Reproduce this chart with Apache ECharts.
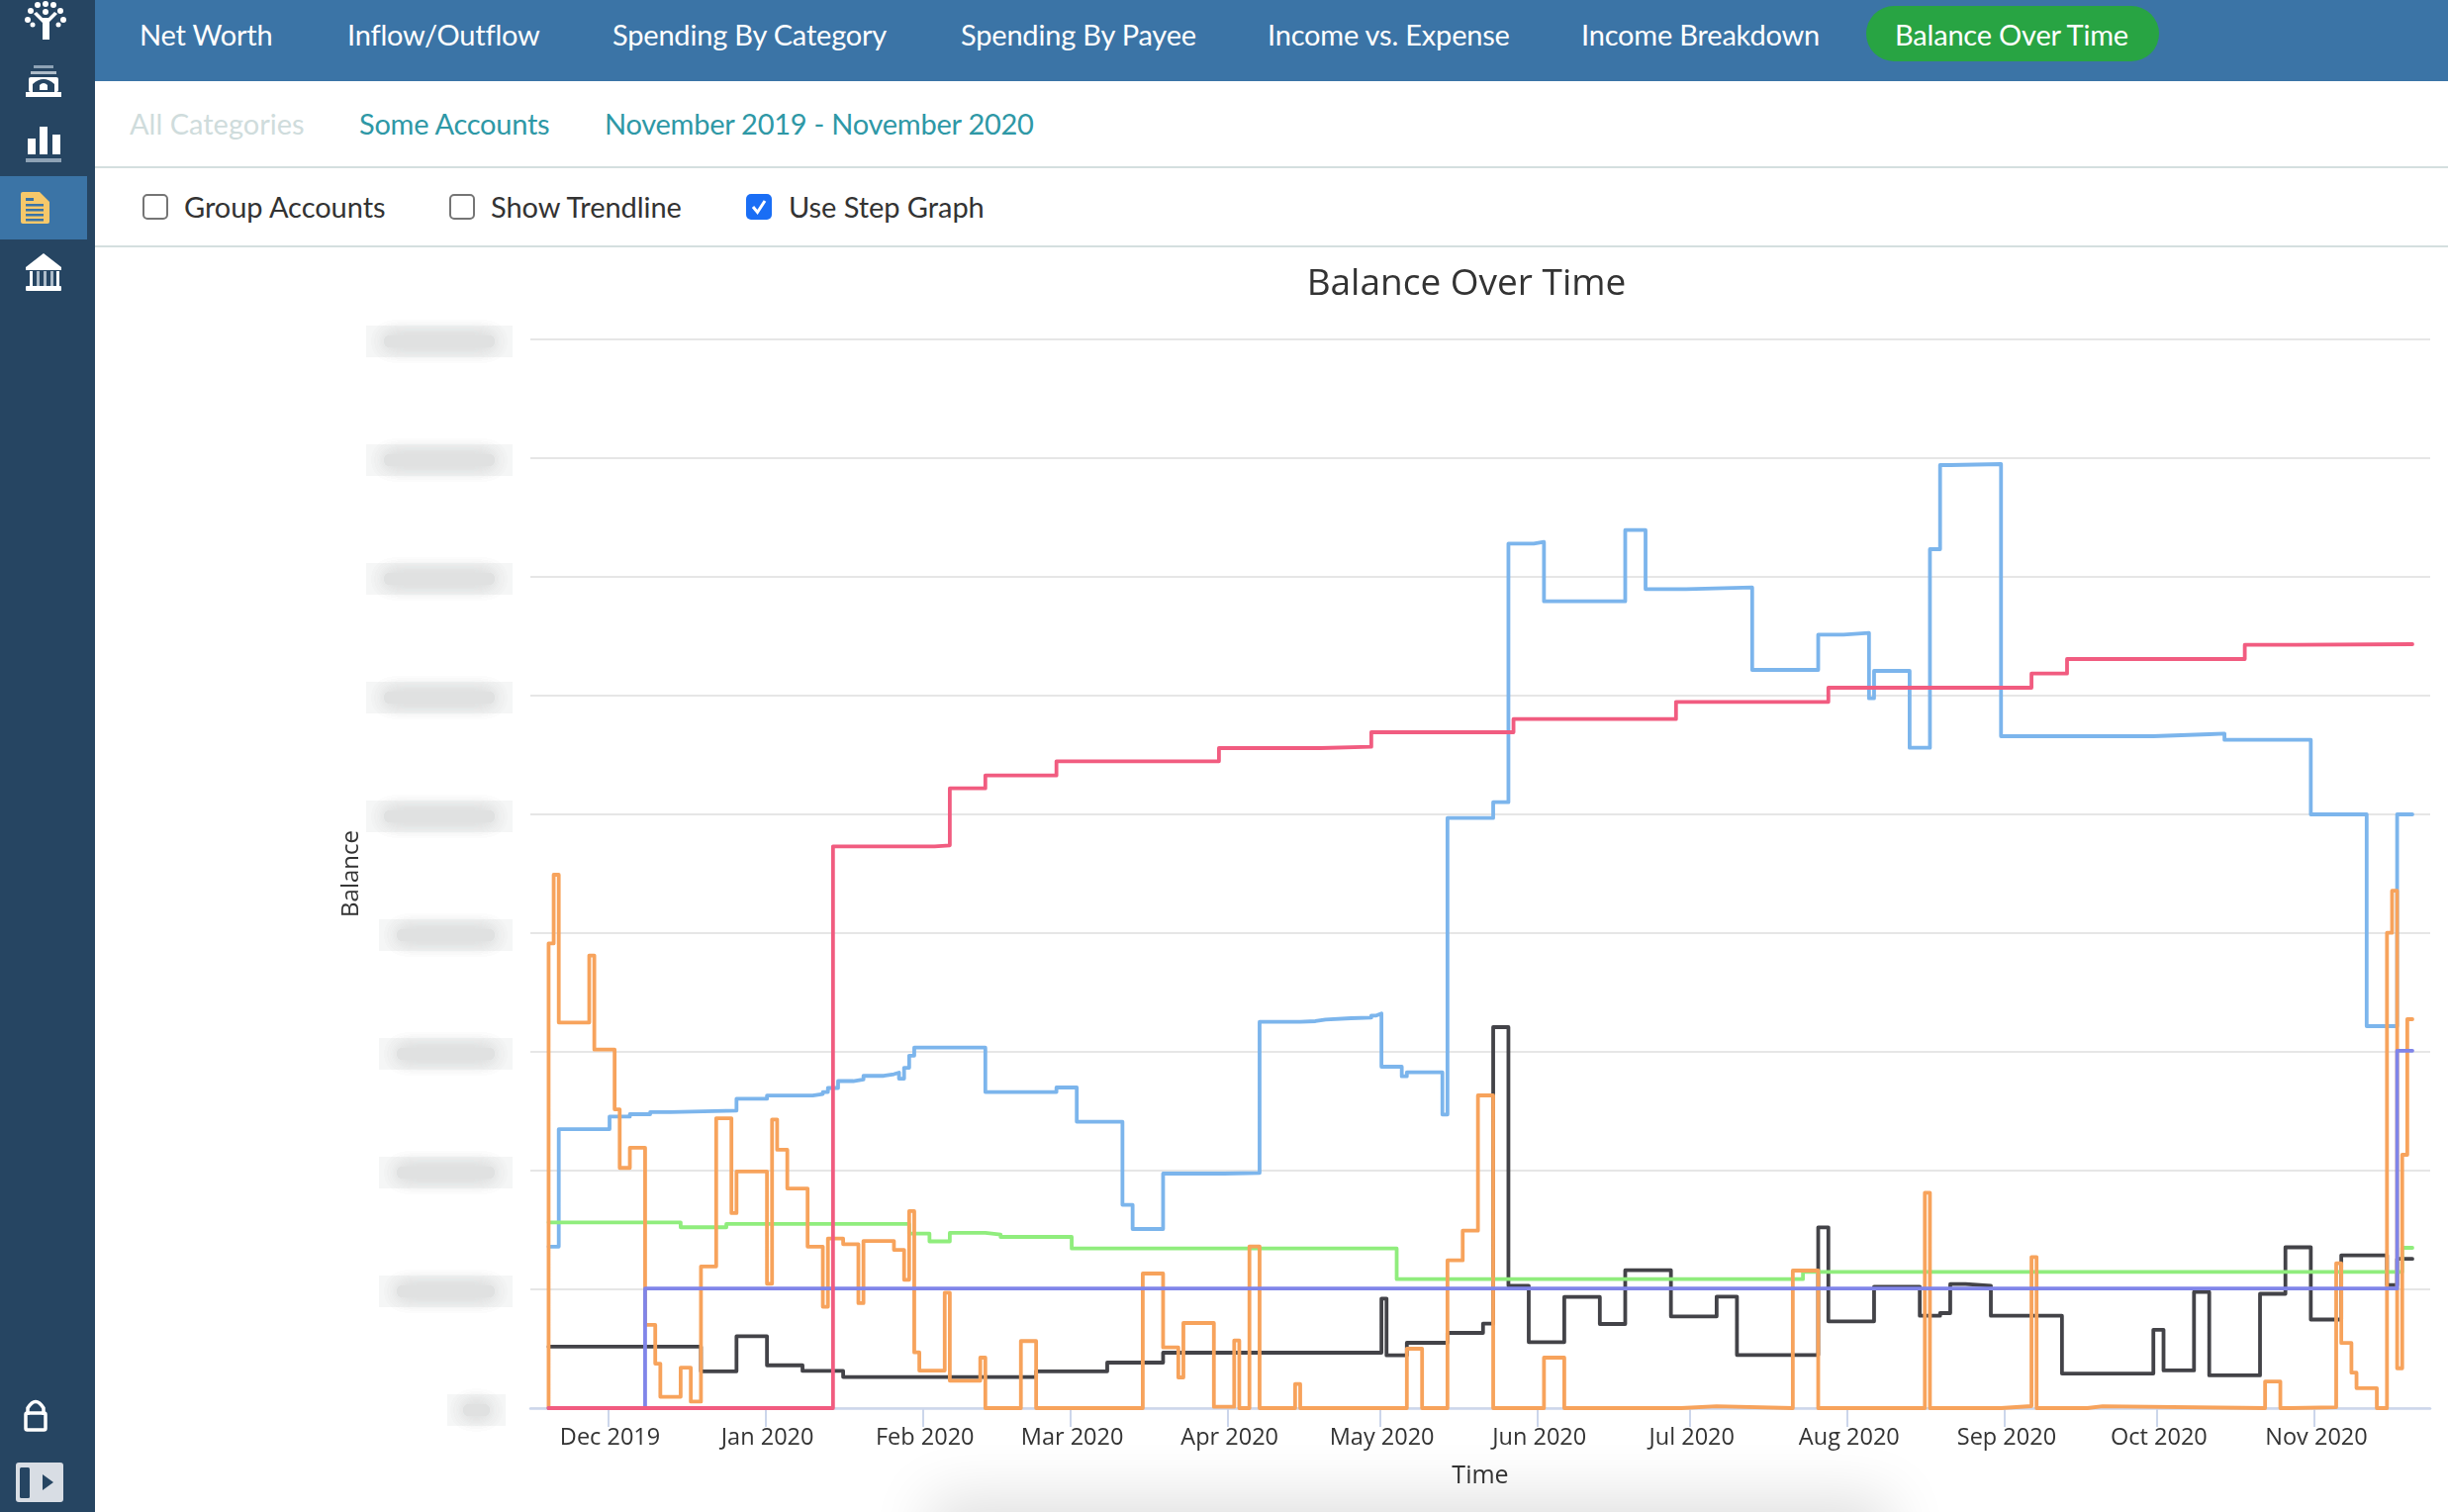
<!DOCTYPE html>
<html>
<head>
<meta charset="utf-8">
<title>Balance Over Time</title>
<script src="https://cdn.jsdelivr.net/npm/echarts@6/dist/echarts.min.js"></script>
<style>
  html, body { margin: 0; padding: 0; width: 2474px; height: 1528px; overflow: hidden; background: #fff; font-family: Lato, sans-serif; }
  #side { position: absolute; left: 0; top: 0; width: 96px; height: 1528px; background: #264562; }
  #side .active { position: absolute; left: 0; top: 178px; width: 88px; height: 64px; background: #3b74a6; }
  #side svg { position: absolute; left: 0; top: 0; }
  #topbar { position: absolute; left: 96px; top: 0; right: 0; height: 82px; background: #3b74a6; }
  .nav { position: absolute; top: 16px; font-size: 29px; line-height: 38px; color: #fff; white-space: nowrap; letter-spacing: -0.2px; }
  #pill { position: absolute; left: 1886px; top: 6px; width: 296px; height: 56px; border-radius: 28px; background: #28a443; }
  .sub { position: absolute; top: 106px; font-size: 29px; line-height: 38px; color: #2e98a6; white-space: nowrap; letter-spacing: -0.25px; }
  .rule { position: absolute; left: 96px; right: 0; height: 2px; background: #d4dfdf; }
  .opt { position: absolute; top: 190px; font-size: 29px; line-height: 38px; color: #333; white-space: nowrap; letter-spacing: -0.05px; }
  .box { position: absolute; top: 196px; width: 22px; height: 22px; border: 2px solid #757575; border-radius: 5px; background: #fff; }
  .box.on { width: 26px; height: 26px; border: 0; background: #1a6ef5; }
  #haze { position: absolute; left: 960px; top: 1534px; width: 930px; height: 40px; box-shadow: 0 0 60px 20px rgba(0,0,0,0.13); }
  #chart { position: absolute; left: 0; top: 0; width: 2474px; height: 1528px; }
</style>
</head>
<body>
<div id="haze"></div>
<div id="side">
  <div class="active"></div>
  <svg width="96" height="1528" viewBox="0 0 96 1528">
    <!-- tree mark -->
    <g fill="#fff">
      <rect x="43" y="18" width="7" height="22"/>
      <path d="M46 26 L34 14 L37 12 L46 21 L55 12 L58 14 Z"/>
      <circle cx="46" cy="4" r="3"/><circle cx="38" cy="5" r="3"/><circle cx="54" cy="5" r="3"/>
      <circle cx="31" cy="11" r="3"/><circle cx="46" cy="12" r="3"/><circle cx="61" cy="11" r="3"/>
      <circle cx="28" cy="20" r="3"/><circle cx="64" cy="20" r="3"/><circle cx="33" cy="25" r="2.5"/><circle cx="59" cy="25" r="2.5"/>
    </g>
    <!-- safe -->
    <g fill="#fff">
      <rect x="34" y="66" width="20" height="3" fill="#8ea2b5"/>
      <rect x="31" y="72" width="26" height="3" fill="#aebcc9"/>
      <rect x="29" y="78" width="30" height="15" rx="2"/>
      <rect x="26" y="93" width="36" height="5"/>
      <path d="M33 93 V85 Q44 75 55 85 V93 Z" fill="#264562"/>
      <path d="M40 91 V86 Q44 82 48 86 V91 Z"/>
    </g>
    <!-- bars -->
    <g fill="#fff">
      <rect x="28" y="140" width="8" height="16"/>
      <rect x="40" y="128" width="8" height="28"/>
      <rect x="53" y="136" width="8" height="20"/>
      <rect x="26" y="160" width="36" height="4" fill="#8ea2b5"/>
    </g>
    <!-- document, active item -->
    <path d="M23 194 H40 L50 204 V224 Q50 226 48 226 H23 Q21 226 21 224 V196 Q21 194 23 194 Z" fill="#f6c86a"/>
    <g fill="#3b74a6">
      <rect x="26" y="200" width="8" height="3"/><rect x="26" y="206" width="18" height="2.5"/>
      <rect x="26" y="211" width="18" height="2.5"/><rect x="26" y="216" width="18" height="2.5"/><rect x="26" y="221" width="18" height="2.5"/>
    </g>
    <!-- institution -->
    <g fill="#fff">
      <path d="M44 256 L62 270 V273 H26 V270 Z"/>
      <rect x="30" y="274" width="3" height="15"/><rect x="37" y="274" width="3" height="15" fill="#aebcc9"/>
      <rect x="44" y="274" width="3" height="15" fill="#aebcc9"/><rect x="51" y="274" width="3" height="15" fill="#aebcc9"/>
      <rect x="57" y="274" width="3" height="15"/><rect x="26" y="289" width="36" height="5" rx="1"/>
    </g>
    <!-- lock -->
    <g>
      <path d="M28 1430 V1423 Q36 1410 44 1423 V1430" fill="none" stroke="#fff" stroke-width="3.5"/>
      <rect x="26" y="1428" width="20" height="17" rx="1.5" fill="none" stroke="#fff" stroke-width="3.5"/>
    </g>
    <!-- collapse toggle -->
    <rect x="16" y="1478" width="48" height="40" rx="3" fill="#d8dde4"/>
    <rect x="20" y="1483" width="10" height="31" rx="1.5" fill="#264562"/>
    <path d="M43 1490 L54 1498 L43 1506 Z" fill="#264562"/>
  </svg>
</div>
<div id="topbar"></div>
<div id="pill"></div>
<div class="nav" style="left:141px">Net Worth</div>
<div class="nav" style="left:351px">Inflow/Outflow</div>
<div class="nav" style="left:619px">Spending By Category</div>
<div class="nav" style="left:971px">Spending By Payee</div>
<div class="nav" style="left:1281px">Income vs. Expense</div>
<div class="nav" style="left:1598px">Income Breakdown</div>
<div class="nav" style="left:1915px">Balance Over Time</div>
<div class="sub" style="left:131px;color:#cfdcdc;letter-spacing:0">All Categories</div>
<div class="sub" style="left:363px">Some Accounts</div>
<div class="sub" style="left:611px">November 2019 - November 2020</div>
<div class="rule" style="top:168px"></div>
<div class="box" style="left:144px"></div>
<div class="opt" style="left:186px">Group Accounts</div>
<div class="box" style="left:454px"></div>
<div class="opt" style="left:496px">Show Trendline</div>
<div class="box on" style="left:754px">
  <svg width="26" height="26" viewBox="0 0 26 26"><path d="M7 13 L11.5 18.5 L19 7" fill="none" stroke="#fff" stroke-width="3"/></svg>
</div>
<div class="opt" style="left:797px">Use Step Graph</div>
<div class="rule" style="top:248px"></div>
<div id="chart"></div>
<script>
// Balance series, one row of change dates and one row of balances per account.
const checkingDates = ['2019-11-19','2019-11-21','2019-12-01','2019-12-05','2019-12-09','2019-12-13','2019-12-26','2020-01-01','2020-01-10','2020-01-12','2020-01-13','2020-01-15','2020-01-18','2020-01-20','2020-01-24','2020-01-26','2020-01-27','2020-01-28','2020-01-29','2020-01-30','2020-02-13','2020-02-27','2020-03-02','2020-03-11','2020-03-13','2020-03-19','2020-03-31','2020-04-07','2020-04-15','2020-04-18','2020-04-20','2020-04-25','2020-04-29','2020-04-30','2020-05-01','2020-05-05','2020-05-06','2020-05-13','2020-05-14','2020-05-23','2020-05-26','2020-05-31','2020-06-02','2020-06-18','2020-06-22','2020-06-30','2020-07-13','2020-07-26','2020-07-31','2020-08-05','2020-08-06','2020-08-13','2020-08-17','2020-08-19','2020-08-21','2020-08-31','2020-09-30','2020-10-11','2020-10-14','2020-10-31','2020-11-11','2020-11-17','2020-11-20'];
const checkingValues = [27200,46990,49100,49500,49840,50120,52090,52630,52900,53240,53920,55080,55350,55960,56240,56510,55490,57320,59360,60720,53240,54000,48230,34230,30170,39500,39610,65060,65170,65450,65670,65780,66120,66450,57500,55890,56560,49450,99380,102050,145620,145880,135880,147880,137950,138220,124330,130280,130550,119550,124170,111220,144670,158830,159000,113170,113500,113620,112550,100000,64330,100000,100000];

const savingsDates = ['2019-11-19','2019-12-19','2019-12-26','2020-01-01','2020-01-08','2020-01-16','2020-02-23','2020-03-08','2020-03-19','2020-05-01','2020-05-02','2020-05-06','2020-05-14','2020-05-21','2020-05-23','2020-05-26','2020-05-30','2020-06-06','2020-06-13','2020-06-18','2020-06-27','2020-07-06','2020-07-10','2020-07-26','2020-07-28','2020-08-06','2020-08-15','2020-08-19','2020-08-21','2020-08-24','2020-08-29','2020-09-12','2020-09-30','2020-10-02','2020-10-08','2020-10-11','2020-10-21','2020-10-26','2020-10-31','2020-11-06','2020-11-15','2020-11-17','2020-11-20'];
const savingsValues = [10340,6190,12100,7210,6260,5240,6190,7670,9330,18450,8890,11000,12670,14220,64170,20610,11110,18720,14170,23220,15450,18780,8950,30450,14610,20450,15560,16000,20890,20610,15560,5820,13200,6340,19550,5520,19250,27080,14920,25740,20740,25140,25140];

const reserveDates = ['2019-11-19','2019-12-15','2019-12-24','2020-01-29','2020-02-02','2020-02-06','2020-02-13','2020-02-16','2020-03-01','2020-05-04','2020-07-23','2020-11-18','2020-11-20'];
const reserveValues = [31280,30460,31010,29380,28080,29510,29240,28830,26890,21720,22950,27000,27000];

const cardDates = ['2019-11-19','2019-11-19','2019-11-20','2019-11-21','2019-11-27','2019-11-28','2019-12-02','2019-12-03','2019-12-05','2019-12-08','2019-12-10','2019-12-11','2019-12-15','2019-12-17','2019-12-19','2019-12-22','2019-12-25','2019-12-26','2020-01-01','2020-01-02','2020-01-03','2020-01-05','2020-01-09','2020-01-12','2020-01-13','2020-01-16','2020-01-19','2020-01-20','2020-01-26','2020-01-28','2020-01-29','2020-01-30','2020-01-31','2020-02-05','2020-02-06','2020-02-12','2020-02-13','2020-02-20','2020-02-23','2020-03-15','2020-03-19','2020-03-22','2020-03-23','2020-03-29','2020-04-02','2020-04-03','2020-04-05','2020-04-07','2020-04-14','2020-04-15','2020-05-06','2020-05-09','2020-05-14','2020-05-17','2020-05-20','2020-05-23','2020-06-02','2020-06-06','2020-06-29','2020-07-06','2020-07-21','2020-07-26','2020-08-16','2020-08-17','2020-08-31','2020-09-06','2020-09-07','2020-09-17','2020-09-20','2020-10-22','2020-10-25','2020-10-27','2020-11-05','2020-11-06','2020-11-08','2020-11-09','2020-11-13','2020-11-15','2020-11-16','2020-11-17','2020-11-18','2020-11-19','2020-11-20'];
const cardValues = [0,78270,89830,64940,76230,60380,50320,40460,43860,14010,7480,1900,6800,1090,23870,48820,32840,39850,20940,48620,43520,36990,27200,17070,28560,27610,17680,28150,26660,21620,33180,9380,6320,19450,4620,8500,0,11290,0,22670,10220,5170,14330,220,11390,0,27220,0,4060,0,10000,0,24890,29890,52670,0,8500,0,300,0,23170,0,36280,0,330,25450,0,300,0,4480,0,150,24390,10970,5970,3360,0,80050,87130,6710,42670,65500,65500];

const brokerageDates = ['2019-11-19','2019-12-08','2020-11-17','2020-11-20'];
const brokerageValues = [0,20130,60200,60200];

const retirementDates = ['2019-11-19','2020-01-14','2020-02-03','2020-02-06','2020-02-13','2020-02-27','2020-03-30','2020-04-19','2020-04-29','2020-05-27','2020-06-28','2020-07-28','2020-09-06','2020-09-13','2020-10-18','2020-10-28','2020-11-20'];
const retirementValues = [0,94620,94780,104380,106550,108950,111170,111380,113830,116050,118950,121330,123720,126170,128550,128670,128670];

const balanceTicks = [0,20000,40000,60000,80000,100000,120000,140000,160000,180000];
const monthNames = ['Jan','Feb','Mar','Apr','May','Jun','Jul','Aug','Sep','Oct','Nov','Dec'];

const pairs = (dates, values) => dates.map((d, i) => [d + 'T07:00:00', values[i]]);
const stepLine = (name, color, dates, values) => ({
  name, type: 'line', step: 'end', showSymbol: false, animation: false,
  lineStyle: { color, width: 3.8, join: 'round', cap: 'round' },
  data: pairs(dates, values)
});

const chart = echarts.init(document.getElementById('chart'), null, { renderer: 'canvas' });
const labelFont = '"Open Sans", sans-serif';
const option = {
  backgroundColor: 'transparent',
  animation: false,
  title: {
    text: 'Balance Over Time', left: 1477, top: 264, textAlign: 'center',
    textStyle: { color: '#333', fontSize: 37, fontWeight: 'normal', fontFamily: labelFont }
  },
  grid: { left: 536, right: 18, top: 343, height: 1080, containLabel: false },
  xAxis: {
    type: 'time',
    min: '2019-11-15T16:48:00',
    max: '2020-11-23T19:12:00',
    minInterval: 28 * 86400000,
    maxInterval: 31 * 86400000,
    name: 'Time', nameLocation: 'middle', nameGap: 56,
    nameTextStyle: { color: '#333', fontSize: 25, fontFamily: labelFont },
    axisLine: { lineStyle: { color: '#ccd6eb', width: 2.5 } },
    axisTick: { show: true, length: 19, lineStyle: { color: '#ccd6eb', width: 2 } },
    splitLine: { show: false },
    axisLabel: {
      color: '#333', fontSize: 23.5, fontFamily: labelFont, margin: 18,
      padding: [0, 0, 0, 4],
      showMinLabel: false, showMaxLabel: false, hideOverlap: false,
      formatter: v => { const d = new Date(v); return monthNames[d.getMonth()] + ' ' + d.getFullYear(); }
    }
  },
  yAxis: {
    type: 'value', min: 0, max: 180000, interval: 20000,
    name: 'Balance', nameLocation: 'middle', nameGap: 169,
    nameTextStyle: { color: '#333', fontSize: 24, fontFamily: labelFont },
    axisLine: { show: false }, axisTick: { show: false },
    axisLabel: { show: false },
    splitLine: { lineStyle: { color: '#e6e6e6', width: 2 } }
  },
  series: [
    stepLine('Checking', '#7cb5ec', checkingDates, checkingValues),
    stepLine('Savings', '#434348', savingsDates, savingsValues),
    stepLine('Reserve', '#90ed7d', reserveDates, reserveValues),
    stepLine('Card', '#f7a35c', cardDates, cardValues),
    stepLine('Brokerage', '#8085e9', brokerageDates, brokerageValues),
    stepLine('Retirement', '#f15c80', retirementDates, retirementValues)
  ]
};
chart.setOption(option);

// The balance tick labels are obscured: a pale patch with a soft smudge sits at each tick.
const smudges = [];
balanceTicks.forEach(tick => {
  const y = chart.convertToPixel({ yAxisIndex: 0 }, tick) + 2;
  const left = tick === 0 ? 452 : (tick >= 100000 ? 370 : 383);
  const right = tick === 0 ? 511 : 518;
  smudges.push({ type: 'rect', silent: true, shape: { x: left, y: y - 16, width: right - left, height: 32 },
    style: { fill: '#f5f6f6' } });
  // Several stacked soft rects build up the blurred core without any hard edge.
  const inset = tick === 0 ? 16 : 18;
  [0, 1, 2].forEach(() => smudges.push({
    type: 'rect', silent: true,
    shape: { x: left + inset, y: y - 6, width: Math.max(right - left - inset * 2, 8), height: 12, r: 6 },
    style: { fill: '#e0e1e1', shadowBlur: 18, shadowColor: '#dcdddd' }
  }));
});
chart.setOption({ graphic: { elements: smudges } });
</script>
</body>
</html>
